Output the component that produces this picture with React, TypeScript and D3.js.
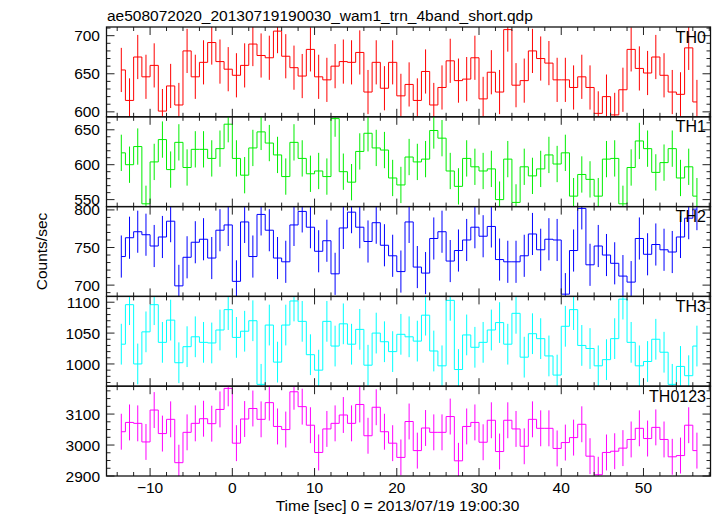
import React from "react";
import * as d3 from "d3";

const TITLE = "ae508072020_20130719190030_wam1_trn_4band_short.qdp";
const X_LABEL = "Time [sec] 0 = 2013/07/19 19:00:30";
const Y_LABEL = "Counts/sec";

const times = [
  -13.5, -12.5, -11.5, -10.5, -9.5, -8.5, -7.5, -6.5, -5.5, -4.5,
  -3.5, -2.5, -1.5, -0.5, 0.5, 1.5, 2.5, 3.5, 4.5, 5.5,
  6.5, 7.5, 8.5, 9.5, 10.5, 11.5, 12.5, 13.5, 14.5, 15.5,
  16.5, 17.5, 18.5, 19.5, 20.5, 21.5, 22.5, 23.5, 24.5, 25.5,
  26.5, 27.5, 28.5, 29.5, 30.5, 31.5, 32.5, 33.5, 34.5, 35.5,
  36.5, 37.5, 38.5, 39.5, 40.5, 41.5, 42.5, 43.5, 44.5, 45.5,
  46.5, 47.5, 48.5, 49.5, 50.5, 51.5, 52.5, 53.5, 54.5, 55.5, 56.5,
];

const th0 = [
  655, 615, 672, 646, 661, 601, 634, 609, 680, 646,
  665, 691, 666, 656, 648, 661, 689, 674, 671, 706,
  673, 658, 647, 682, 646, 642, 660, 666, 665, 678,
  626, 665, 631, 665, 621, 636, 615, 653, 609, 632,
  667, 641, 643, 671, 617, 652, 626, 708, 635, 641,
  680, 670, 664, 642, 642, 632, 646, 632, 598, 620,
  596, 629, 682, 657, 651, 672, 648, 626, 623, 684, 613,
];
const th1 = [
  617, 600, 626, 544, 604, 636, 593, 632, 596, 622,
  622, 609, 623, 658, 609, 585, 624, 647, 631, 614,
  583, 632, 609, 587, 591, 583, 666, 590, 575, 619,
  645, 624, 621, 581, 571, 611, 604, 608, 649, 638,
  591, 569, 609, 597, 591, 594, 550, 608, 546, 597,
  584, 594, 614, 601, 617, 555, 586, 579, 555, 608,
  609, 544, 596, 634, 623, 589, 603, 623, 581, 597, 555,
];
const th2 = [
  738, 763, 771, 767, 752, 764, 785, 699, 737, 757,
  761, 736, 773, 780, 705, 784, 738, 794, 773, 736,
  731, 780, 798, 777, 745, 759, 715, 776, 797, 777,
  758, 783, 753, 739, 718, 784, 724, 716, 762, 771,
  732, 746, 760, 777, 765, 778, 734, 731, 731, 739,
  768, 747, 761, 760, 688, 746, 802, 727, 752, 740,
  729, 712, 704, 762, 741, 754, 747, 744, 764, 789, 801,
];
const th3 = [
  1032, 1096, 1000, 1052, 1096, 1035, 1071, 1002, 1028, 1044,
  1035, 1034, 1055, 1088, 1043, 1053, 1070, 967, 1063, 1003,
  1063, 1102, 1069, 1015, 990, 1069, 1029, 1065, 1032, 1056,
  998, 1050, 1036, 1020, 1048, 1044, 1037, 1079, 1021, 997,
  1103, 991, 1047, 1027, 1035, 1055, 1067, 1032, 1082, 1011,
  1049, 1041, 1013, 982, 1061, 1088, 1030, 1025, 997, 1007,
  1041, 1105, 1035, 997, 1004, 1040, 1019, 967, 996, 981, 1029,
];
const th0123 = [
  3043, 3073, 3070, 3010, 3113, 3037, 3083, 2943, 3041, 3070,
  3085, 3069, 3115, 3183, 3006, 3084, 3118, 3083, 3137, 3060,
  3050, 3172, 3124, 3064, 2976, 3052, 3070, 3097, 3070, 3131,
  3030, 3122, 3043, 3006, 2960, 3076, 2982, 3055, 3041, 3041,
  3092, 2949, 3060, 3073, 3009, 3080, 2979, 3080, 3052, 2996,
  3083, 3054, 3054, 2989, 3008, 3024, 3067, 2964, 2904, 2976,
  2980, 2990, 3018, 3054, 3021, 3057, 3018, 2962, 2966, 3064, 2982,
];

const panelNames = ["TH0", "TH1", "TH2", "TH3", "TH0123"];
const panelSeries = [th0, th1, th2, th3, th0123];
const panelErrors = [29, 26, 28, 33, 58];
const panelColors = ["#ff0000", "#00ee00", "#0000ff", "#00ffff", "#ff00ff"];
const panelDomains: [number, number][] = [
  [593.5, 711.4],
  [540, 668.6],
  [685, 804.4],
  [964, 1109.4],
  [2900, 3190],
];
const panelMajorTicks = [
  [600, 650, 700],
  [550, 600, 650],
  [700, 750, 800],
  [1000, 1050, 1100],
  [2900, 3000, 3100],
];
const panelMinorStep = [10, 10, 10, 10, 25];
const xMajorTicks = [-10, 0, 10, 20, 30, 40, 50];
const xDomain: [number, number] = [-15.3, 58.15];

const W = 717;
const H = 516;
const LEFT = 106.5;
const RIGHT = 710.5;
const TOP = 27;
const PANEL_H = 89.8;
const FONT = "'Liberation Sans', Arial, Helvetica, sans-serif";

function fmt(v: number) {
  return v < 0 ? "\u2212" + Math.abs(v) : String(v);
}

export default function App() {
  const x = d3.scaleLinear().domain(xDomain).range([LEFT, RIGHT]);
  const xMinor = d3.range(-14, 58.2, 2);
  const bottom = TOP + PANEL_H * 5;

  return (
    <svg
      width={W}
      height={H}
      style={{ position: "absolute", left: 0, top: 0, background: "#fff" }}
      fontFamily={FONT}
    >
      <defs>
        {panelNames.map((_, k) => (
          <clipPath id={`clip${k}`} key={k}>
            <rect x={LEFT} y={TOP + k * PANEL_H} width={RIGHT - LEFT} height={PANEL_H} />
          </clipPath>
        ))}
      </defs>
      <text x={107} y={21} fontSize={15.5} fill="#000">
        {TITLE}
      </text>
      {panelNames.map((name, k) => {
        const top = TOP + k * PANEL_H;
        const bot = top + PANEL_H;
        const y = d3.scaleLinear().domain(panelDomains[k]).range([bot, top]);
        const vals = panelSeries[k];
        const err = panelErrors[k];
        const pts: [number, number][] = times.map((t, i) => [x(t), y(vals[i])]);
        const line = d3.line().curve(d3.curveStep)(pts) || "";
        const [d0, d1] = panelDomains[k];
        const minor = d3
          .range(Math.ceil(d0 / panelMinorStep[k]) * panelMinorStep[k], d1 + 0.001, panelMinorStep[k])
          .filter((v) => !panelMajorTicks[k].includes(v));
        return (
          <g key={name}>
            <g clipPath={`url(#clip${k})`} stroke={panelColors[k]} strokeWidth={1} fill="none">
              {times.map((t, i) => (
                <line
                  key={i}
                  x1={x(t)}
                  x2={x(t)}
                  y1={y(vals[i] - err)}
                  y2={y(vals[i] + err)}
                />
              ))}
              <path d={line} />
            </g>
            {/* y ticks */}
            <g stroke="#222" strokeWidth={1}>
              {panelMajorTicks[k].map((v) => (
                <g key={"M" + v}>
                  <line x1={LEFT} x2={LEFT + 8} y1={y(v)} y2={y(v)} />
                  <line x1={RIGHT} x2={RIGHT - 8} y1={y(v)} y2={y(v)} />
                </g>
              ))}
              {minor.map((v) => (
                <g key={"m" + v}>
                  <line x1={LEFT} x2={LEFT + 4} y1={y(v)} y2={y(v)} />
                  <line x1={RIGHT} x2={RIGHT - 4} y1={y(v)} y2={y(v)} />
                </g>
              ))}
              {xMinor.map((v) => {
                const major = xMajorTicks.includes(v);
                const len = major ? 8 : 4;
                return (
                  <g key={"x" + v}>
                    <line x1={x(v)} x2={x(v)} y1={top} y2={top + len} />
                    <line x1={x(v)} x2={x(v)} y1={bot} y2={bot - len} />
                  </g>
                );
              })}
            </g>
            <rect
              x={LEFT}
              y={top}
              width={RIGHT - LEFT}
              height={PANEL_H}
              fill="none"
              stroke="#111"
              strokeWidth={1.3}
            />
            {panelMajorTicks[k].map((v) => (
              <text
                key={"l" + v}
                x={100}
                y={y(v)}
                dy="0.36em"
                textAnchor="end"
                fontSize={15.5}
                fill="#000"
              >
                {v}
              </text>
            ))}
            <text x={706} y={top + 15.5} textAnchor="end" fontSize={16} fill="#000">
              {name}
            </text>
          </g>
        );
      })}
      {xMajorTicks.map((v) => (
        <text key={v} x={x(v)} y={493} textAnchor="middle" fontSize={15.5} fill="#000">
          {fmt(v)}
        </text>
      ))}
      <text x={397.5} y={511} textAnchor="middle" fontSize={15.5} fill="#000">
        {X_LABEL}
      </text>
      <text
        transform={`translate(47, ${(TOP + bottom) / 2}) rotate(-90)`}
        textAnchor="middle"
        fontSize={15.5}
        fill="#000"
      >
        {Y_LABEL}
      </text>
    </svg>
  );
}
